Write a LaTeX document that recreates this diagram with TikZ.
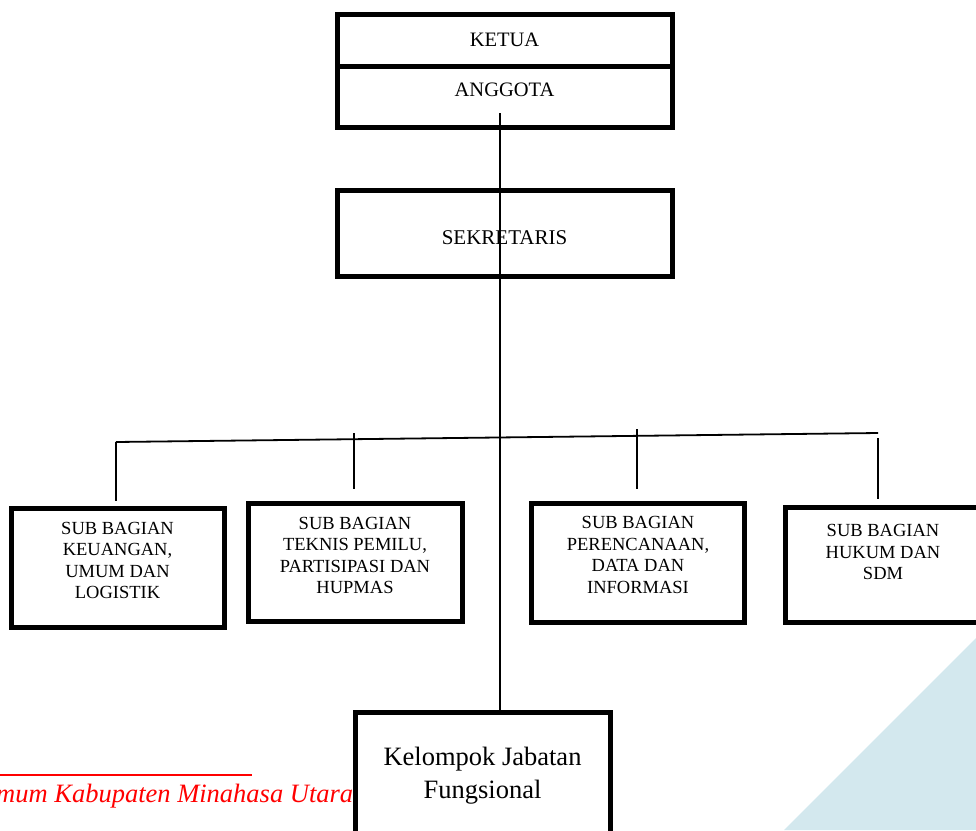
\documentclass[tikz,border=0pt]{standalone}
\usepackage{fontspec}
\setmainfont{Liberation Serif}
\usetikzlibrary{positioning}

\definecolor{bluebg}{HTML}{D3E8EE}
\definecolor{footred}{HTML}{FF0000}

\begin{document}
\begin{tikzpicture}[x=1pt, y=-1pt]

\tikzset{
    box/.style={draw, line width=5pt, inner sep=0pt, outer sep=0pt},
    whitebox/.style={box, fill=white},
    myline/.style={line width=1.8pt},
    toptext/.style={inner sep=0pt, align=center, font=\fontsize{20.5}{24}\selectfont},
    boxtext/.style={inner sep=0pt, align=center, font=\fontsize{18.5}{21.5}\selectfont},
    bigtext/.style={inner sep=0pt, align=center, font=\fontsize{26.5}{33}\selectfont},
    foottext/.style={inner sep=0pt, text=footred, font=\fontsize{26.5}{30}\selectfont\itshape}
}

%%%%%%%%%%%%%%%%%%%%%%%%%%%%%%%%%%%%%%%%%%%%%%%%%%%%%%%%%
%                       Begin Picture                   %
%%%%%%%%%%%%%%%%%%%%%%%%%%%%%%%%%%%%%%%%%%%%%%%%%%%%%%%%%

\useasboundingbox (0,0) rectangle (976,830);
\clip (0,0) rectangle (976,830);

% Background corner
\fill[bluebg] (784,830) -- (976,638) -- (976,830) -- cycle;

% Block Ketua / Anggota
\node[box, minimum width=335pt, minimum height=52pt] (ketua) at (504.5,40) {};
\node[box, below=0pt of ketua, minimum width=335pt, minimum height=61pt] (anggota) {};
\node[toptext, below=19pt of ketua.north] (tketua) {KETUA};
\node[toptext, below=17pt of anggota.north] (tanggota) {ANGGOTA};

% Block Sekretaris
\node[box, minimum width=335pt, minimum height=86pt] (sekr) at (504.5,233) {};
\node[toptext, font=\fontsize{21}{24}\selectfont, below=40pt of sekr.north] (tsekr) {SEKRETARIS};

% Sub Bagian blocks
\node[box, minimum width=213pt, minimum height=119pt] (b1) at (117.5,567.5) {};
\node[boxtext, below=14pt of b1.north] (t1) {SUB BAGIAN\\KEUANGAN,\\UMUM DAN\\LOGISTIK};

\node[box, minimum width=214pt, minimum height=118pt] (b2) at (355,562) {};
\node[boxtext, below=14pt of b2.north] (t2) {SUB BAGIAN\\TEKNIS PEMILU,\\PARTISIPASI DAN\\HUPMAS};

\node[box, minimum width=213pt, minimum height=119pt] (b3) at (638,563) {};
\node[boxtext, below=13pt of b3.north] (t3) {SUB BAGIAN\\PERENCANAAN,\\DATA DAN\\INFORMASI};

\node[box, minimum width=195pt, minimum height=115pt] (b4) at (883,565) {};
\node[boxtext, below=17pt of b4.north] (t4) {SUB BAGIAN\\HUKUM DAN\\SDM};

% Footer text (partly under the last block)
\draw[footred, line width=2.7pt] (0,775) -- (252,775);
\node[foottext, anchor=base west] (foot) at (-4,802) {mum Kabupaten Minahasa Utara};

% Block Kelompok Jabatan Fungsional
\node[whitebox, minimum width=255pt, minimum height=160pt] (kjf) at (482.5,792) {};
\node[bigtext, below=35pt of kjf.north] (tkjf) {Kelompok Jabatan\\Fungsional};

%%% Connectors %%%
\coordinate (top) at (500,113);
\coordinate (hl) at (116,442);
\coordinate (hr) at (878,433);
\coordinate (k2) at (354,433);
\coordinate (k3) at (637,429);
\coordinate (k4) at (878,438);

\draw[myline] (top) -- (top |- kjf.north);
\draw[myline] (hl) -- (hr);
\draw[myline, shorten >=7pt] (hl) -- (hl |- b1.north);
\draw[myline, shorten >=14pt] (k2) -- (k2 |- b2.north);
\draw[myline, shorten >=15pt] (k3) -- (k3 |- b3.north);
\draw[myline, shorten >=9pt] (k4) -- (k4 |- b4.north);

\end{tikzpicture}
\end{document}
